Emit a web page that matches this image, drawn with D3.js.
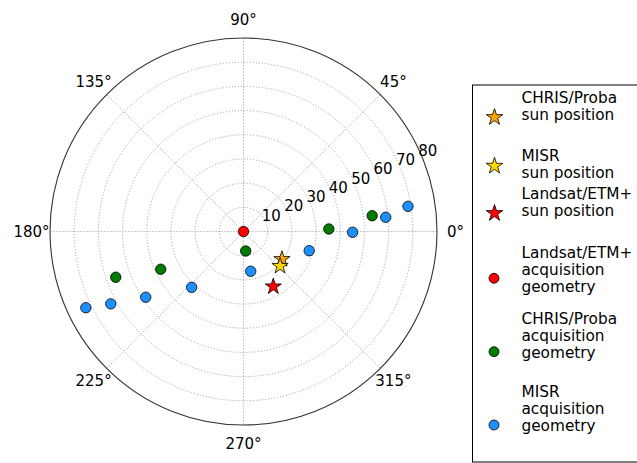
<!DOCTYPE html>
<html>
<head>
<meta charset="utf-8">
<script src="https://cdn.jsdelivr.net/npm/d3@7"></script>
<style>
  body { margin: 0; background: #fff; }
  text { font-family: "DejaVu Sans", sans-serif; fill: #000; }
</style>
</head>
<body>
<svg id="chart" width="637" height="463"></svg>
<script>
// Azimuth in degrees (counter-clockwise from east), zenith in degrees (radius)
const sunNames = ["CHRIS/Proba", "MISR", "Landsat/ETM+"];
const sunAzimuth = [324.2, 316.6, 298.4];
const sunZenith = [19.6, 20.8, 25.9];
const sunColors = ["#ffa500", "#ffd700", "#ff0000"];

const landsatAzimuth = [0];
const landsatZenith = [0];

const chrisAzimuth = [276.4, 1.7, 7.0, 204.5, 199.7];
const chrisZenith = [8.1, 35.3, 53.6, 37.6, 56.1];

const misrAzimuth = [280.3, 343.7, 359.6, 5.7, 8.7, 227.1, 213.9, 208.6, 205.8];
const misrZenith = [16.7, 28.3, 45.1, 59.1, 68.8, 31.5, 48.7, 62.5, 72.4];

const radialTicks = [10, 20, 30, 40, 50, 60, 70, 80];
const angleTicks = [0, 45, 90, 135, 180, 225, 270, 315];

const legendLabels = [
  ["CHRIS/Proba", "sun position"],
  ["MISR", "sun position"],
  ["Landsat/ETM+", "sun position"],
  ["Landsat/ETM+", "acquisition", "geometry"],
  ["CHRIS/Proba", "acquisition", "geometry"],
  ["MISR", "acquisition", "geometry"]
];
const legendMarkers = ["star", "star", "star", "circle", "circle", "circle"];
const legendColors = ["#ffa500", "#ffd700", "#ff0000", "#ff0000", "#007a00", "#1e8fff"];

// layout
const cx = 243.5, cy = 231.5, R = 193.5;
const svg = d3.select("#chart");
svg.append("rect").attr("width", 637).attr("height", 463).attr("fill", "#fff");

const r = d3.scaleLinear().domain([0, 80]).range([0, R]);
const ang = d3.scaleLinear().domain([0, 360]).range([0, 2 * Math.PI]);
const px = (az, z) => cx + r(z) * Math.cos(ang(az));
const py = (az, z) => cy - r(z) * Math.sin(ang(az));

const g = svg.append("g");

// dotted zenith rings
g.selectAll("circle.ring")
  .data(radialTicks.filter(d => d < 80))
  .join("circle")
  .attr("class", "ring")
  .attr("cx", cx).attr("cy", cy)
  .attr("r", d => r(d))
  .attr("fill", "none")
  .attr("stroke", "#909090")
  .attr("stroke-width", 0.9)
  .attr("stroke-dasharray", "1,2");

// dotted azimuth spokes
g.selectAll("line.spoke")
  .data(angleTicks)
  .join("line")
  .attr("class", "spoke")
  .attr("x1", cx).attr("y1", cy)
  .attr("x2", d => px(d, 80)).attr("y2", d => py(d, 80))
  .attr("stroke", "#909090")
  .attr("stroke-width", 0.9)
  .attr("stroke-dasharray", "1,2");

// outer frame
g.append("circle")
  .attr("cx", cx).attr("cy", cy).attr("r", r(80))
  .attr("fill", "none").attr("stroke", "#333").attr("stroke-width", 1.1);

// azimuth labels
g.selectAll("text.alabel")
  .data(angleTicks)
  .join("text")
  .attr("class", "alabel")
  .attr("x", d => cx + (R + 18.5) * Math.cos(ang(d)))
  .attr("y", d => cy - (R + 18.5) * Math.sin(ang(d)))
  .attr("text-anchor", "middle")
  .attr("dominant-baseline", "central")
  .attr("font-size", 15)
  .text(d => d + "°");

// zenith labels along 22.5°
g.selectAll("text.rlabel")
  .data(radialTicks)
  .join("text")
  .attr("class", "rlabel")
  .attr("x", d => px(22.5, d) + 5.5)
  .attr("y", d => py(22.5, d) - 6.5)
  .attr("text-anchor", "middle")
  .attr("dominant-baseline", "central")
  .attr("font-size", 15)
  .text(d => d);

// acquisition geometry points
function dots(az, zen, color) {
  g.append("g").selectAll("circle")
    .data(az.map((a, i) => [a, zen[i]]))
    .join("circle")
    .attr("cx", d => px(d[0], d[1]))
    .attr("cy", d => py(d[0], d[1]))
    .attr("r", 5.2)
    .attr("fill", color)
    .attr("stroke", "#000")
    .attr("stroke-width", 0.8);
}
dots(landsatAzimuth, landsatZenith, "#ff0000");
dots(chrisAzimuth, chrisZenith, "#007a00");
dots(misrAzimuth, misrZenith, "#1e8fff");

// sun positions
const star = d3.symbol().type(d3.symbolStar).size(82);
g.append("g").selectAll("path")
  .data(sunAzimuth.map((a, i) => ({ a, z: sunZenith[i], c: sunColors[i] })))
  .join("path")
  .attr("d", star)
  .attr("transform", d => `translate(${px(d.a, d.z)},${py(d.a, d.z)})`)
  .attr("fill", d => d.c)
  .attr("stroke", "#000")
  .attr("stroke-width", 0.8);

// legend
const lg = svg.append("g");
lg.append("rect")
  .attr("x", 472.5).attr("y", 85)
  .attr("width", 180).attr("height", 377)
  .attr("fill", "#fff").attr("stroke", "#000").attr("stroke-width", 1);

const firstBaseline = [103, 160.5, 199, 258, 323.5, 397];
const markerY = [117.3, 166, 213.3, 278.3, 351.7, 425];
const lineStep = 17;

legendLabels.forEach((lines, i) => {
  if (legendMarkers[i] === "star") {
    lg.append("path")
      .attr("d", d3.symbol().type(d3.symbolStar).size(85)())
      .attr("transform", `translate(494.5,${markerY[i]})`)
      .attr("fill", legendColors[i]).attr("stroke", "#000").attr("stroke-width", 0.8);
  } else {
    lg.append("circle")
      .attr("cx", 494).attr("cy", markerY[i]).attr("r", 5)
      .attr("fill", legendColors[i]).attr("stroke", "#000").attr("stroke-width", 0.8);
  }
  const t = lg.append("text").attr("font-size", 15.3);
  lines.forEach((ln, j) => {
    t.append("tspan").attr("x", 521.5).attr("y", firstBaseline[i] + j * lineStep).text(ln);
  });
});
</script>
</body>
</html>
